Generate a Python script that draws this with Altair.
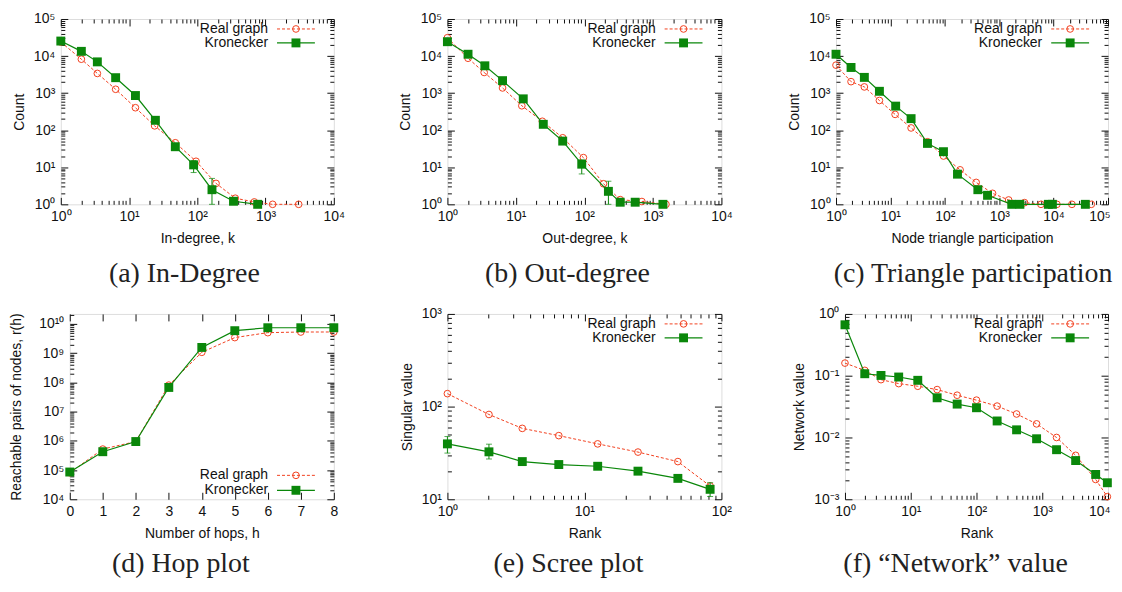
import altair as alt
import pandas as pd

# ---------------- data ----------------
# (a) In-degree
a_real_k = [1, 2, 3.43, 6.36, 12.4, 23.7, 47.6, 95.7, 188, 360, 684, 1270, 3055]
a_real_c = [23900, 8230, 3400, 1270, 404, 131, 45.8, 14.5, 3.67, 1.46, 1.16, 1.0, 1.0]
a_kron_k = [1, 2, 3.43, 6.36, 12.4, 24.3, 47.6, 88.3, 164, 339, 766]
a_kron_c = [25400, 13400, 6970, 2610, 861, 185, 35.8, 11.6, 2.48, 1.21, 1.0]
a_err_k = [47.6, 88.3, 164]
a_err_lo = [30, 7.2, 1.0]
a_err_hi = [42, 15.1, 5.0]

# (b) Out-degree
b_real_k = [1, 2, 3.44, 6.38, 12.2, 24.3, 48.2, 96.7, 190, 333, 690, 1550]
b_real_c = [31200, 8730, 3610, 1380, 456, 174, 62.4, 18.2, 3.59, 1.34, 1.19, 1.0]
b_kron_k = [1, 2, 3.52, 6.38, 12.8, 25.1, 48.2, 91.4, 224, 333, 551, 1400]
b_kron_c = [24400, 11200, 5460, 2170, 701, 144, 50.8, 12.1, 2.24, 1.14, 1.14, 1.0]
b_err_k = [91.4, 224]
b_err_lo = [6.6, 1.0]
b_err_hi = [15.8, 4.2]

# (c) Triangle participation
c_real_k = [1, 1.89, 3.32, 6.28, 12.2, 24, 48, 94.5, 191, 377, 754, 1490, 2920, 5850, 11500, 21700, 49300]
c_real_c = [5690, 2040, 1470, 633, 267, 115, 48.7, 20.1, 8.51, 3.9, 1.98, 1.31, 1.11, 1, 1, 1, 1]
c_kron_k = [1, 1.89, 3.32, 6.28, 12.5, 24, 48, 94.5, 171, 405, 610, 1700, 2400, 8000, 9500, 38300]
c_kron_c = [11200, 4920, 2660, 1120, 446, 205, 44, 26.3, 6.51, 2.48, 1.75, 1, 1, 1, 1, 1]

# (d) Hop plot
d_hops = [0, 1, 2, 3, 4, 5, 6, 7, 8]
d_real = [81000, 521000, 944000, 8.05e7, 1.07e9, 3.41e9, 5.03e9, 5.29e9, 5.3e9]
d_kron = [85500, 424000, 944000, 6.71e7, 1.57e9, 5.87e9, 7.41e9, 7.41e9, 7.41e9]

# (e) Scree plot
e_rank = [1, 2.01, 3.52, 6.5, 12.5, 24.6, 48.1, 82.7]
e_real = [138, 82.2, 58.2, 48.6, 39.6, 32.3, 25.5, 13.9]
e_kron = [39.6, 32.5, 25.5, 23.7, 22.7, 20.1, 16.8, 12.8]
e_err_r = [1, 2.01, 12.5, 82.7]
e_err_lo = [31.5, 27.2, 21.5, 10.7]
e_err_hi = [47.5, 39.3, 24.0, 15.1]

# (f) "Network" value
f_rank = [1, 2.0, 3.53, 6.56, 12.8, 25.2, 50.8, 100, 206, 407, 820, 1650, 3220, 6490, 9770]
f_real = [0.16, 0.122, 0.0863, 0.0745, 0.0675, 0.0596, 0.0483, 0.0402, 0.0322, 0.024,
          0.0166, 0.01, 0.00514, 0.00209, 0.0011]
f_kron = [0.667, 0.1076, 0.101, 0.0952, 0.0842, 0.0439, 0.0347, 0.0303, 0.0185, 0.0133,
          0.00953, 0.00634, 0.00423, 0.00252, 0.00185]

series_names = ["Real graph", "Kronecker"]

# ---------------- styling ----------------
RED = "#f2401f"
GREEN = "#0a870a"
INK = "#111111"
FONT = "Liberation Sans"
SERIF = "Liberation Serif"
SUP = {"0": "⁰", "1": "¹", "2": "²", "3": "³", "4": "⁴", "5": "⁵",
       "6": "⁶", "7": "⁷", "8": "⁸", "9": "⁹", "-": "⁻"}
ONE = pd.DataFrame({"o": [0]})


def sup(e):
    return "".join(SUP[ch] for ch in str(e))


def pow_label_expr(e_lo, e_hi):
    E = "round(log(datum.value)/LN10)"
    parts = [f"{E} == {e} ? '10{sup(e)}'" for e in range(e_lo, e_hi + 1)]
    return " : ".join(parts) + " : ''"


def log_ticks(e_lo, e_hi, top=None):
    major = [10.0 ** e for e in range(e_lo, e_hi + 1)]
    minor = []
    for e in range(e_lo, e_hi + 1):
        for m in range(2, 10):
            v = m * 10.0 ** e
            if v < (top if top else 10.0 ** e_hi):
                minor.append(v)
    return major, minor


def lab_axis(title, values, expr=None, orient="bottom", tpad=None, edge=None):
    kw = dict(values=values, ticks=False, tickSize=0, domain=False, grid=False,
              title=title, labelFont=FONT, labelFontSize=14, labelColor=INK,
              titleFont=FONT, titleFontSize=14, titleFontWeight="normal",
              titleColor=INK, labelFlush=False, labelOverlap=False)
    if orient == "bottom":
        kw.update(labelPadding=5, titlePadding=8 if tpad is None else tpad)
    else:
        kw.update(labelPadding=6, titlePadding=7 if tpad is None else tpad)
    if expr:
        kw["labelExpr"] = expr
    if edge is not None:
        # keep the right-most label inside the page
        test = f"datum.value >= {edge * 0.999}"
        kw["labelAlign"] = {"condition": {"test": test, "value": "right"}, "value": "center"}
        kw["labelOffset"] = {"condition": {"test": test, "value": 2}, "value": 0}
    return alt.Axis(**kw)


def tick_axis(orient, values, size):
    return alt.Axis(orient=orient, values=values, labels=False, ticks=True,
                    tickSize=size, offset=-size, domain=False, grid=False,
                    title=None, tickColor=INK, tickWidth=1)


def panel(rx, ry, kx, ky, xs, ys, xaxis, yaxis, xtick, ytick, w, h,
          caption, cap_dx, cap_off, cap_size, legend_top=True, err=None):
    real = pd.DataFrame({"x": rx, "y": ry})
    kron = pd.DataFrame({"x": kx, "y": ky})

    def X(ax, field="x"):
        return alt.X(f"{field}:Q", scale=xs, axis=ax)

    def Y(ax, field="y"):
        return alt.Y(f"{field}:Q", scale=ys, axis=ax)

    layers = [
        alt.Chart(real).mark_line(color=RED, strokeDash=[3, 2], strokeWidth=1)
        .encode(x=X(xaxis), y=Y(yaxis)),
        alt.Chart(real).mark_point(shape="circle", filled=False, color=RED,
                                   size=45, strokeWidth=1, opacity=1)
        .encode(x=X(None), y=Y(None)),
    ]
    if err is not None:
        edf = pd.DataFrame({"x": err[0], "lo": err[1], "hi": err[2]})
        layers.append(alt.Chart(edf).mark_rule(color=GREEN, strokeWidth=1)
                      .encode(x=X(None), y=Y(None, "lo"), y2="hi:Q"))
        for f in ("lo", "hi"):
            layers.append(alt.Chart(edf).mark_tick(color=GREEN, orient="horizontal",
                                                   size=6, thickness=1)
                          .encode(x=X(None), y=Y(None, f)))
    layers += [
        alt.Chart(kron).mark_line(color=GREEN, strokeWidth=1.2)
        .encode(x=X(None), y=Y(None)),
        alt.Chart(kron).mark_point(shape="square", filled=True, color=GREEN,
                                   size=80, opacity=1)
        .encode(x=X(None), y=Y(None)),
    ]
    # gnuplot-style inward ticks on all four borders
    (xmaj, xmin), (ymaj, ymin) = xtick, ytick
    for (xo, yo) in (("bottom", "left"), ("top", "right")):
        layers.append(alt.Chart(real).mark_point(opacity=0).encode(
            x=X(tick_axis(xo, xmaj, 7)), y=Y(tick_axis(yo, ymaj, 7))))
        layers.append(alt.Chart(real).mark_point(opacity=0).encode(
            x=X(tick_axis(xo, xmin, 4) if xmin else None),
            y=Y(tick_axis(yo, ymin, 4) if ymin else None)))
    # legend (gnuplot style: label, then line sample with marker)
    rows = [10, 24] if legend_top else [h - 24, h - 9]
    styles = [(RED, [3, 2], "circle", False, 45, 1), (GREEN, [1, 0], "square", True, 80, 1.2)]
    for name, yy, (col, dash, shp, fill, sz, sw) in zip(series_names, rows, styles):
        layers.append(alt.Chart(ONE).mark_text(text=name, align="right", baseline="middle",
                                               font=FONT, fontSize=14, color=INK)
                      .encode(x=alt.value(w - 66), y=alt.value(yy)))
        layers.append(alt.Chart(ONE).mark_rule(color=col, strokeDash=dash, strokeWidth=sw)
                      .encode(x=alt.value(w - 57), x2=alt.value(w - 19), y=alt.value(yy)))
        layers.append(alt.Chart(ONE).mark_point(shape=shp, filled=fill, color=col, size=sz,
                                                strokeWidth=1, opacity=1)
                      .encode(x=alt.value(w - 38), y=alt.value(yy)))

    return alt.layer(*layers).resolve_axis(x="independent", y="independent").properties(
        width=w, height=h,
        title=alt.TitleParams(caption, orient="bottom", anchor="middle", frame="group",
                              font=SERIF, fontSize=cap_size, fontWeight="normal",
                              color="#222222", dx=cap_dx, offset=cap_off))


def spacer(w, h):
    return alt.Chart(ONE).mark_point(opacity=0).encode(
        x=alt.value(0), y=alt.value(0)).properties(
        width=w, height=h, view=alt.ViewBackground(strokeOpacity=0))


H = 186
cnt_major, cnt_minor = log_ticks(0, 5)
deg_major, deg_minor = log_ticks(0, 4)
tri_major, tri_minor = log_ticks(0, 5)

pa = panel(a_real_k, a_real_c, a_kron_k, a_kron_c,
           alt.Scale(type="log", domain=[1, 1e4]), alt.Scale(type="log", domain=[1, 1e5]),
           lab_axis("In-degree, k", deg_major, pow_label_expr(0, 4)),
           lab_axis("Count", cnt_major, pow_label_expr(0, 5), "left"),
           (deg_major, deg_minor), (cnt_major, cnt_minor), 274, H,
           "(a) In-Degree", -13, 15, 28, True, (a_err_k, a_err_lo, a_err_hi))

pb = panel(b_real_k, b_real_c, b_kron_k, b_kron_c,
           alt.Scale(type="log", domain=[1, 1e4]), alt.Scale(type="log", domain=[1, 1e5]),
           lab_axis("Out-degree, k", deg_major, pow_label_expr(0, 4)),
           lab_axis("Count", cnt_major, pow_label_expr(0, 5), "left"),
           (deg_major, deg_minor), (cnt_major, cnt_minor), 275, H,
           "(b) Out-degree", -17, 15, 28, True, (b_err_k, b_err_lo, b_err_hi))

pc = panel(c_real_k, c_real_c, c_kron_k, c_kron_c,
           alt.Scale(type="log", domain=[1, 1e5]), alt.Scale(type="log", domain=[1, 1e5]),
           lab_axis("Node triangle participation", tri_major, pow_label_expr(0, 5), edge=1e5),
           lab_axis("Count", cnt_major, pow_label_expr(0, 5), "left"),
           (tri_major, tri_minor), (cnt_major, cnt_minor), 273, H,
           "(c) Triangle participation", 1, 15, 28, True)

hop_major, hop_minor = log_ticks(4, 10, top=2.2e10)
pd_ = panel(d_hops, d_real, d_hops, d_kron,
            alt.Scale(type="linear", domain=[0, 8], nice=False, zero=False),
            alt.Scale(type="log", domain=[1e4, 2.2e10], nice=False),
            lab_axis("Number of hops, h", d_hops),
            lab_axis("Reachable pairs of nodes, r(h)", hop_major, pow_label_expr(4, 10),
                     "left", tpad=15),
            (d_hops, None), (hop_major, hop_minor), 265, H,
            "(d) Hop plot", -21, 10, 28, False)

sv_major, sv_minor = log_ticks(1, 3)
rk_major, rk_minor = log_ticks(0, 2)
pe = panel(e_rank, e_real, e_rank, e_kron,
           alt.Scale(type="log", domain=[1, 100]), alt.Scale(type="log", domain=[10, 1000]),
           lab_axis("Rank", rk_major, pow_label_expr(0, 2)),
           lab_axis("Singular value", sv_major, pow_label_expr(1, 3), "left"),
           (rk_major, rk_minor), (sv_major, sv_minor), 275, H,
           "(e) Scree plot", -16, 10, 28, True, (e_err_r, e_err_lo, e_err_hi))

nv_major, nv_minor = log_ticks(-3, 0)
fr_major, fr_minor = log_ticks(0, 4)
pf = panel(f_rank, f_real, f_rank, f_kron,
           alt.Scale(type="log", domain=[1, 1e4]), alt.Scale(type="log", domain=[1e-3, 1]),
           lab_axis("Rank", fr_major, pow_label_expr(0, 4), edge=1e4),
           lab_axis("Network value", nv_major, pow_label_expr(-3, 0), "left"),
           (fr_major, fr_minor), (nv_major, nv_minor), 264, H,
           "(f) “Network” value", -21, 10, 28, True)

row1 = alt.hconcat(pa, spacer(114, H), pb, spacer(115, H), pc, spacing=0, bounds="flush")
row2 = alt.hconcat(spacer(9, H), pd_, spacer(114, H), pe, spacer(124, H), pf,
                   spacing=0, bounds="flush")

chart = alt.vconcat(row1, row2, spacing=17).properties(
    padding={"left": 1, "top": 2, "right": 0, "bottom": 0}
).configure_view(stroke="black", strokeWidth=1).configure(
    font=FONT, background="white"
).configure_axis(grid=False)

chart.save("out.html", embed_options={"renderer": "svg", "actions": False})
